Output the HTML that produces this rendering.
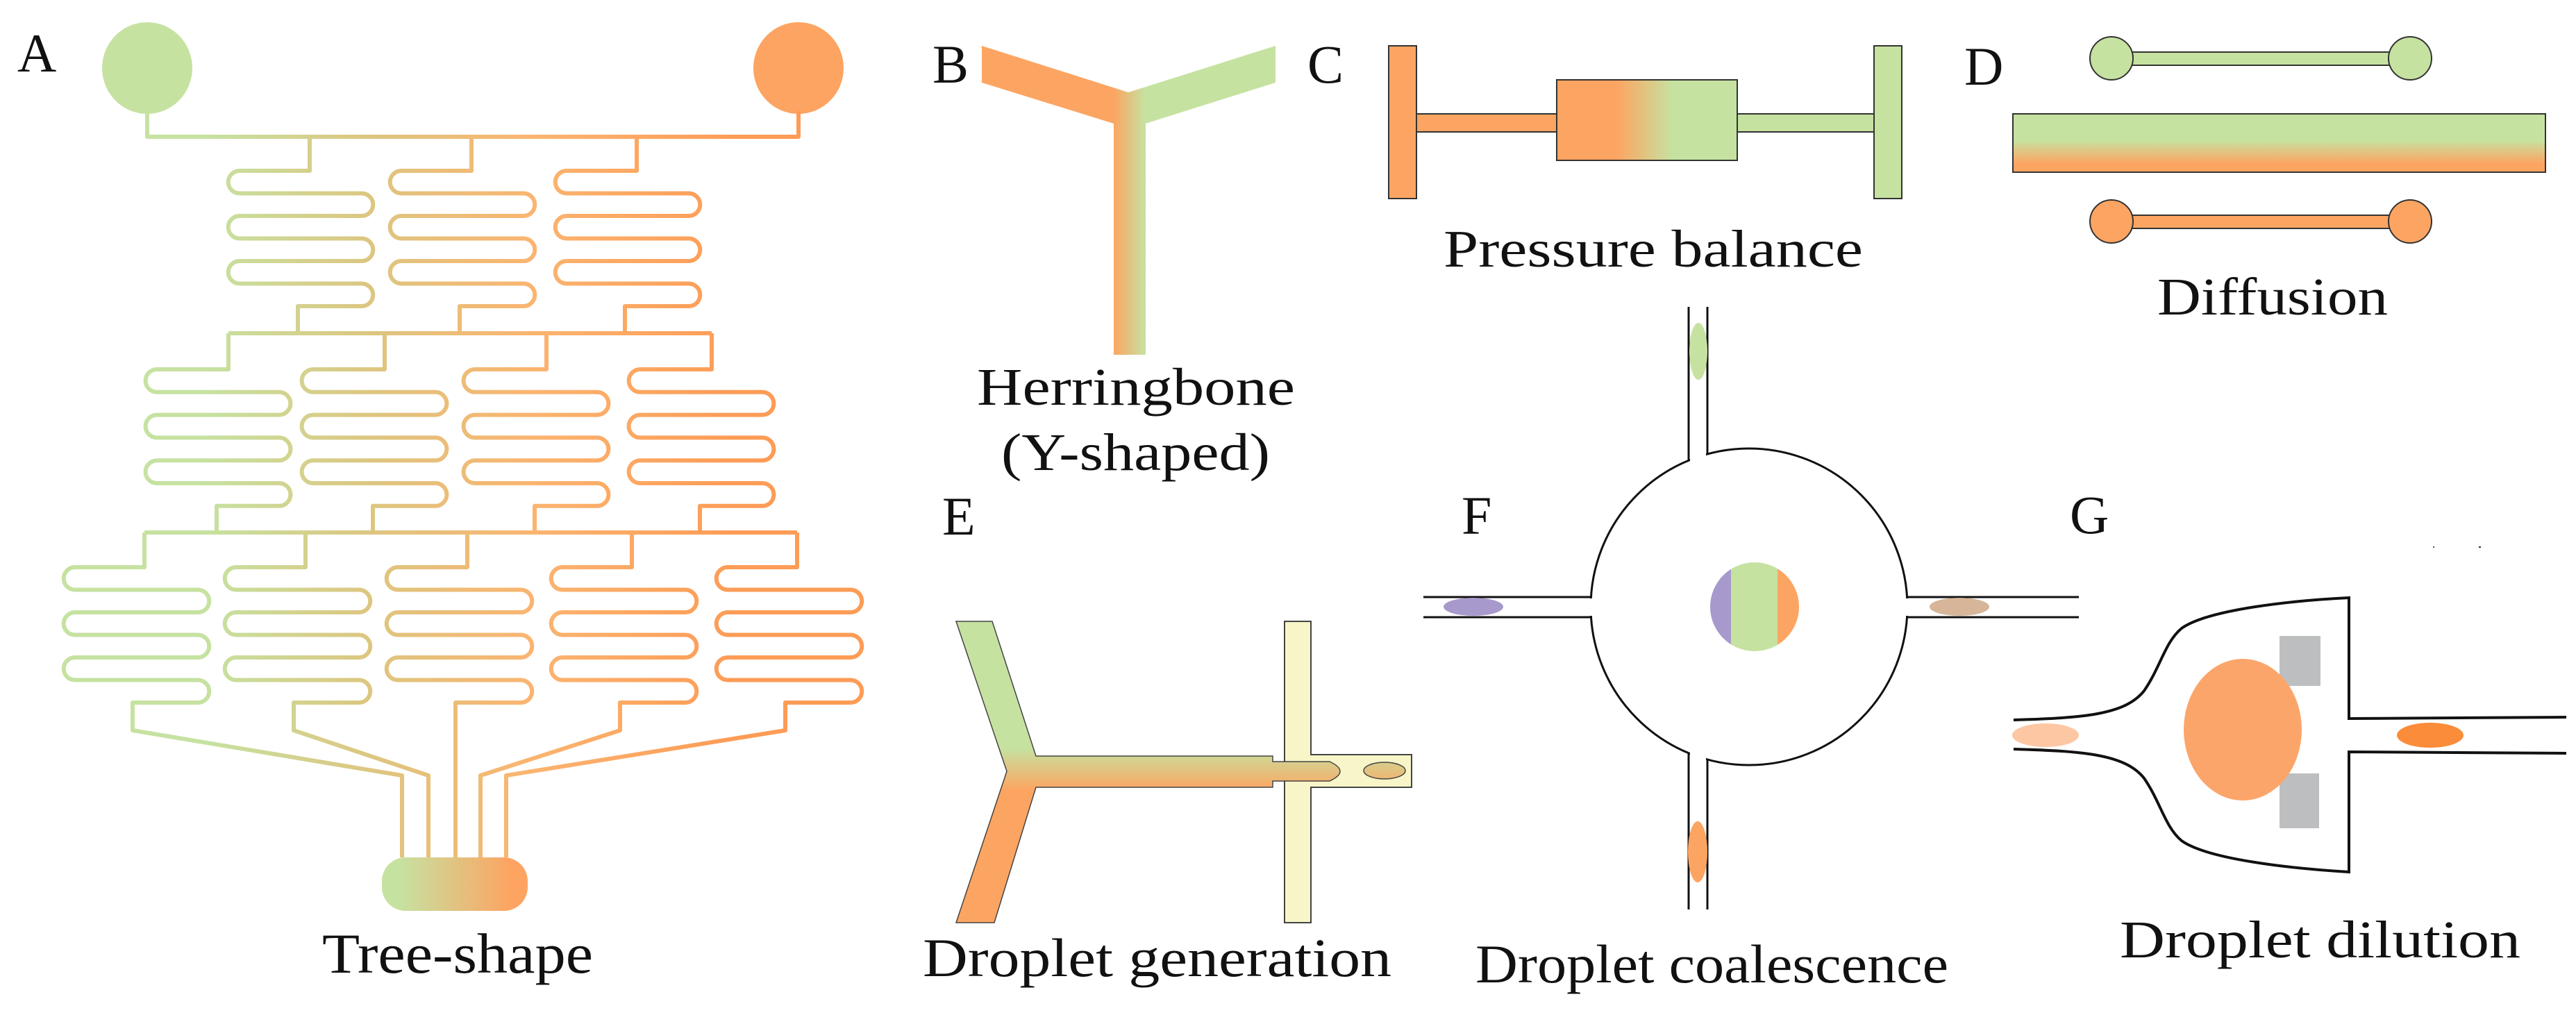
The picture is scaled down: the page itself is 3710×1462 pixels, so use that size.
<!DOCTYPE html>
<html><head><meta charset="utf-8"><style>
html,body{margin:0;padding:0;background:#fff;}
svg{display:block;}
text{font-family:"Liberation Serif",serif;fill:#111;}
</style></head><body>
<svg width="3710" height="1462" viewBox="0 0 3710 1462" xmlns="http://www.w3.org/2000/svg">
<defs>
<linearGradient id="tree" gradientUnits="userSpaceOnUse" x1="200" y1="0" x2="1150" y2="0">
<stop offset="0.1" stop-color="#c6e2a1"/><stop offset="0.35" stop-color="#ddc680"/><stop offset="0.6" stop-color="#fbb470"/><stop offset="0.9" stop-color="#fd9c56"/></linearGradient>
<linearGradient id="cham" gradientUnits="userSpaceOnUse" x1="550" y1="0" x2="760" y2="0">
<stop offset="0.12" stop-color="#c6e2a1"/><stop offset="0.88" stop-color="#fda462"/></linearGradient>
<linearGradient id="yb" gradientUnits="userSpaceOnUse" x1="1604" y1="0" x2="1650" y2="0">
<stop offset="0" stop-color="#fca562"/><stop offset="1" stop-color="#c6e2a1"/></linearGradient>
<linearGradient id="box" gradientUnits="userSpaceOnUse" x1="2315" y1="0" x2="2410" y2="0">
<stop offset="0" stop-color="#fca562"/><stop offset="0.15" stop-color="#fca562"/><stop offset="1" stop-color="#c6e2a1"/></linearGradient>
<linearGradient id="dbar" gradientUnits="userSpaceOnUse" x1="0" y1="164" x2="0" y2="248">
<stop offset="0.45" stop-color="#c6e2a1"/><stop offset="0.85" stop-color="#fca562"/></linearGradient>
<linearGradient id="eg" gradientUnits="userSpaceOnUse" x1="0" y1="1078" x2="0" y2="1138">
<stop offset="0" stop-color="#c6e2a1"/><stop offset="1" stop-color="#fca562"/></linearGradient>
</defs>

<!-- Panel A -->
<text x="25" y="103" font-size="78">A</text>
<ellipse cx="212" cy="98" rx="65" ry="66" fill="#c6e2a1"/>
<ellipse cx="1150" cy="98" rx="65" ry="66" fill="#fda462"/>
<g fill="none" stroke="url(#tree)" stroke-width="6" stroke-linejoin="round">
<path d="M212,160 V197 H1150 V160"/>
<path d="M446,197 V246 H345 A16.25 16.25 0 0 0 345,278.5 H521 A16.25 16.25 0 0 1 521,311 H345 A16.25 16.25 0 0 0 345,343.5 H521 A16.25 16.25 0 0 1 521,376 H345 A16.25 16.25 0 0 0 345,408.5 H521 A16.25 16.25 0 0 1 521,441 H429 V480"/>
<path d="M679,197 V246 H578 A16.25 16.25 0 0 0 578,278.5 H754 A16.25 16.25 0 0 1 754,311 H578 A16.25 16.25 0 0 0 578,343.5 H754 A16.25 16.25 0 0 1 754,376 H578 A16.25 16.25 0 0 0 578,408.5 H754 A16.25 16.25 0 0 1 754,441 H662 V480"/>
<path d="M917,197 V246 H816 A16.25 16.25 0 0 0 816,278.5 H992 A16.25 16.25 0 0 1 992,311 H816 A16.25 16.25 0 0 0 816,343.5 H992 A16.25 16.25 0 0 1 992,376 H816 A16.25 16.25 0 0 0 816,408.5 H992 A16.25 16.25 0 0 1 992,441 H900 V480"/>
<path d="M329,480 H1025"/>
<path d="M329,480 V532 H226 A16.4 16.4 0 0 0 226,564.8 H402 A16.4 16.4 0 0 1 402,597.6 H226 A16.4 16.4 0 0 0 226,630.4 H402 A16.4 16.4 0 0 1 402,663.2 H226 A16.4 16.4 0 0 0 226,696 H402 A16.4 16.4 0 0 1 402,728.8 H312 V767"/>
<path d="M554,480 V532 H451 A16.4 16.4 0 0 0 451,564.8 H627 A16.4 16.4 0 0 1 627,597.6 H451 A16.4 16.4 0 0 0 451,630.4 H627 A16.4 16.4 0 0 1 627,663.2 H451 A16.4 16.4 0 0 0 451,696 H627 A16.4 16.4 0 0 1 627,728.8 H537 V767"/>
<path d="M787,480 V532 H684 A16.4 16.4 0 0 0 684,564.8 H860 A16.4 16.4 0 0 1 860,597.6 H684 A16.4 16.4 0 0 0 684,630.4 H860 A16.4 16.4 0 0 1 860,663.2 H684 A16.4 16.4 0 0 0 684,696 H860 A16.4 16.4 0 0 1 860,728.8 H770 V767"/>
<path d="M1025,480 V532 H922 A16.4 16.4 0 0 0 922,564.8 H1098 A16.4 16.4 0 0 1 1098,597.6 H922 A16.4 16.4 0 0 0 922,630.4 H1098 A16.4 16.4 0 0 1 1098,663.2 H922 A16.4 16.4 0 0 0 922,696 H1098 A16.4 16.4 0 0 1 1098,728.8 H1008 V767"/>
<path d="M208,767 H1148"/>
<path d="M208,767 V817 H108 A16.25 16.25 0 0 0 108,849.5 H285 A16.25 16.25 0 0 1 285,882 H108 A16.25 16.25 0 0 0 108,914.5 H285 A16.25 16.25 0 0 1 285,947 H108 A16.25 16.25 0 0 0 108,979.5 H285 A16.25 16.25 0 0 1 285,1012 H191 V1052 L579,1117 V1235"/>
<path d="M440,767 V817 H340 A16.25 16.25 0 0 0 340,849.5 H517 A16.25 16.25 0 0 1 517,882 H340 A16.25 16.25 0 0 0 340,914.5 H517 A16.25 16.25 0 0 1 517,947 H340 A16.25 16.25 0 0 0 340,979.5 H517 A16.25 16.25 0 0 1 517,1012 H423 V1052 L617,1117 V1235"/>
<path d="M673,767 V817 H573 A16.25 16.25 0 0 0 573,849.5 H750 A16.25 16.25 0 0 1 750,882 H573 A16.25 16.25 0 0 0 573,914.5 H750 A16.25 16.25 0 0 1 750,947 H573 A16.25 16.25 0 0 0 573,979.5 H750 A16.25 16.25 0 0 1 750,1012 H656 V1235"/>
<path d="M910,767 V817 H810 A16.25 16.25 0 0 0 810,849.5 H987 A16.25 16.25 0 0 1 987,882 H810 A16.25 16.25 0 0 0 810,914.5 H987 A16.25 16.25 0 0 1 987,947 H810 A16.25 16.25 0 0 0 810,979.5 H987 A16.25 16.25 0 0 1 987,1012 H893 V1052 L692,1117 V1235"/>
<path d="M1148,767 V817 H1048 A16.25 16.25 0 0 0 1048,849.5 H1225 A16.25 16.25 0 0 1 1225,882 H1048 A16.25 16.25 0 0 0 1048,914.5 H1225 A16.25 16.25 0 0 1 1225,947 H1048 A16.25 16.25 0 0 0 1048,979.5 H1225 A16.25 16.25 0 0 1 1225,1012 H1131 V1052 L729,1117 V1235"/>
</g>
<rect x="550" y="1235" width="210" height="77" rx="34" fill="url(#cham)"/>
<text x="464" y="1401" font-size="82" textLength="390" lengthAdjust="spacingAndGlyphs">Tree-shape</text>

<!-- Panel B -->
<text x="1343" y="119" font-size="78">B</text>
<polygon points="1414,66 1625,133 1837,66 1837,119 1650,178 1650,511 1604,511 1604,178 1414,119" fill="url(#yb)"/>
<text x="1407" y="583" font-size="76" textLength="458" lengthAdjust="spacingAndGlyphs">Herringbone</text>
<text x="1442" y="677" font-size="76" textLength="387" lengthAdjust="spacingAndGlyphs">(Y-shaped)</text>

<!-- Panel C -->
<text x="1883" y="119" font-size="78">C</text>
<g stroke="#333" stroke-width="2">
<rect x="2040" y="164" width="202" height="26" fill="#fca562"/>
<rect x="2502" y="164" width="197" height="26" fill="#c6e2a1"/>
<rect x="2000" y="66" width="40" height="220" fill="#fca562"/>
<rect x="2699" y="66" width="40" height="220" fill="#c6e2a1"/>
<rect x="2242" y="115" width="260" height="116" fill="url(#box)"/>
</g>
<text x="2079" y="384" font-size="76" textLength="604" lengthAdjust="spacingAndGlyphs">Pressure balance</text>

<!-- Panel D -->
<text x="2829" y="122" font-size="78">D</text>
<g stroke="#333" stroke-width="2">
<rect x="3041" y="75" width="430" height="19" fill="#c6e2a1"/>
<circle cx="3041" cy="84" r="31" fill="#c6e2a1"/>
<circle cx="3471" cy="84" r="31" fill="#c6e2a1"/>
<rect x="2899" y="164" width="767" height="84" fill="url(#dbar)"/>
<rect x="3041" y="310" width="430" height="19" fill="#fca562"/>
<circle cx="3041" cy="319" r="31" fill="#fca562"/>
<circle cx="3471" cy="319" r="31" fill="#fca562"/>
</g>
<text x="3107" y="453" font-size="76" textLength="332" lengthAdjust="spacingAndGlyphs">Diffusion</text>

<!-- Panel E -->
<text x="1357" y="770" font-size="78">E</text>
<path d="M1850,895 H1888 V1087 H2033 V1134 H1888 V1329 H1850 Z" fill="#f8f6c8" stroke="#444" stroke-width="2"/>
<polygon points="1377,895 1429,895 1492,1089 1833,1089 1833,1097 1850,1097 1850,1125 1833,1125 1833,1134 1492,1134 1432,1329 1377,1329 1450,1111" fill="url(#eg)" stroke="#444" stroke-width="1.5"/>
<path d="M1850,1097 H1915 Q1945,1111 1915,1125 H1850" fill="url(#eg)" stroke="#444" stroke-width="1.5"/>
<rect x="1834" y="1098" width="18" height="26" fill="url(#eg)"/>
<ellipse cx="1994" cy="1110" rx="30" ry="12" fill="url(#eg)" stroke="#444" stroke-width="1.5"/>
<text x="1329" y="1406" font-size="78" textLength="675" lengthAdjust="spacingAndGlyphs">Droplet generation</text>

<!-- Panel F -->
<text x="2105" y="769" font-size="78">F</text>
<circle cx="2519" cy="874" r="228" fill="none" stroke="#111" stroke-width="3"/>
<rect x="2434" y="635" width="23" height="45" fill="#fff"/>
<rect x="2434" y="1068" width="23" height="45" fill="#fff"/>
<rect x="2278" y="862" width="24" height="25" fill="#fff"/>
<rect x="2736" y="862" width="24" height="25" fill="#fff"/>
<g stroke="#111" stroke-width="3" fill="none">
<path d="M2050,860 H2292 M2050,889 H2292 M2746,860 H2994 M2746,889 H2994"/>
<path d="M2432,442 V664 M2459,442 V655 M2432,1084 V1310 M2459,1093 V1310"/>
</g>
<ellipse cx="2446" cy="506" rx="13" ry="41" fill="#c6e2a1"/>
<ellipse cx="2122" cy="874" rx="43" ry="13" fill="#a899cc"/>
<ellipse cx="2822" cy="874" rx="43" ry="13" fill="#d6b598"/>
<ellipse cx="2445" cy="1227" rx="14" ry="44" fill="#fca562"/>
<clipPath id="cd"><circle cx="2527" cy="874" r="64"/></clipPath>
<g clip-path="url(#cd)">
<rect x="2460" y="800" width="34" height="150" fill="#a899cc"/>
<rect x="2493" y="800" width="68" height="150" fill="#c6e2a1"/>
<rect x="2560" y="800" width="40" height="150" fill="#fca562"/>
</g>
<text x="2125" y="1415" font-size="78" textLength="681" lengthAdjust="spacingAndGlyphs">Droplet coalescence</text>

<!-- Panel G -->
<text x="2981" y="768" font-size="78">G</text>
<rect x="3283" y="916" width="59" height="72" fill="#bdbec0"/>
<rect x="3283" y="1114" width="57" height="79" fill="#bdbec0"/>
<ellipse cx="3230" cy="1051" rx="85" ry="102" fill="#fca56a"/>
<g stroke="#111" stroke-width="4" fill="none">
<path d="M2900,1037 C3000,1034 3060,1030 3088,995 C3112,960 3118,925 3142,905 C3180,878 3300,865 3383,861 V1035 L3696,1033"/>
<path d="M2900,1079 C3000,1082 3060,1086 3088,1121 C3112,1156 3118,1191 3142,1211 C3180,1238 3300,1251 3383,1256 V1083 L3696,1085"/>
</g>
<ellipse cx="2946" cy="1059" rx="48" ry="17" fill="#fdc7a4"/>
<ellipse cx="3500" cy="1059" rx="48" ry="18" fill="#fb8c3a"/>
<rect x="3504" y="787" width="2" height="2" fill="#555"/>
<rect x="3570" y="787" width="3" height="2" fill="#333"/>
<text x="3053" y="1379" font-size="76" textLength="577" lengthAdjust="spacingAndGlyphs">Droplet dilution</text>
</svg>
</body></html>
